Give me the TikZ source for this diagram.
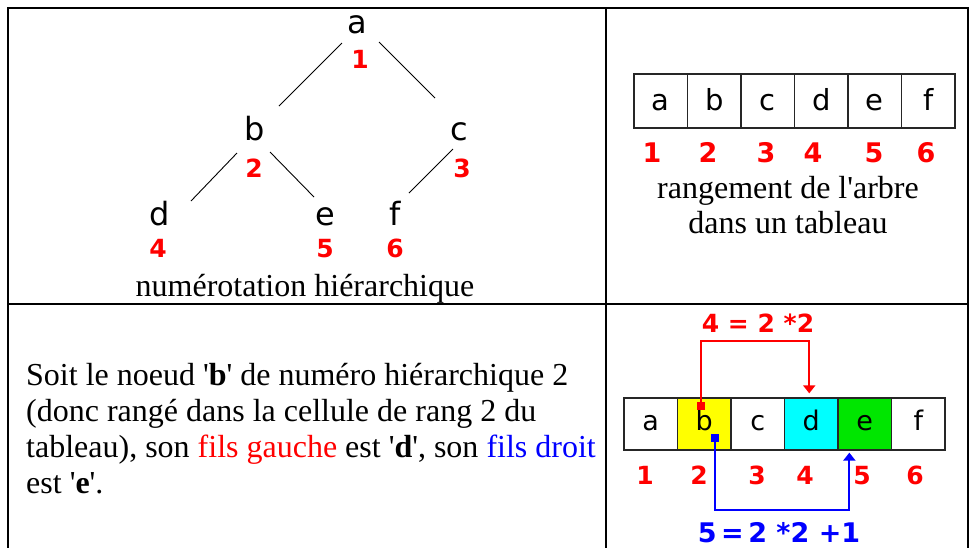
\documentclass[tikz,border=0pt]{standalone}
\usepackage{fontspec}
\setmainfont{Liberation Serif}
\newfontfamily\dsans{DejaVu Sans}
\usetikzlibrary{calc,arrows.meta}
\definecolor{cellyellow}{RGB}{255,255,0}
\definecolor{cellcyan}{RGB}{0,255,255}
\definecolor{cellgreen}{RGB}{0,230,0}
\definecolor{pured}{RGB}{255,0,0}
\definecolor{pureblue}{RGB}{0,0,255}
\begin{document}
\begin{tikzpicture}[x=1pt,y=-1pt,
  frame/.style={line width=2.2pt},
  treelet/.style={font=\dsans\fontsize{32}{32}\selectfont, inner sep=0pt, anchor=base},
  treenum/.style={font=\dsans\bfseries\fontsize{25}{25}\selectfont, text=pured, inner sep=0pt, anchor=base},
  tedge/.style={line width=0.9pt},
  serif/.style={font=\fontsize{32}{36}\selectfont, inner sep=0pt},
  cellA/.style={draw=black!85, line width=1.3pt, minimum width=53.5pt, minimum height=54pt,
     inner sep=0pt, font=\dsans\fontsize{29}{29}\selectfont, text height=20pt, text depth=2pt},
  cellB/.style={draw=black!85, line width=1.3pt, minimum width=53.5pt, minimum height=52pt,
     inner sep=0pt, font=\dsans\fontsize{27}{27}\selectfont, text height=14pt, text depth=2pt},
  arrnum/.style={font=\dsans\bfseries\fontsize{27}{27}\selectfont, text=pured, inner sep=0pt, anchor=base},
  arrnumB/.style={font=\dsans\bfseries\fontsize{25}{25}\selectfont, text=pured, inner sep=0pt, anchor=base},
  redarr/.style={draw=pured, line width=2pt, -{Triangle[length=8pt,width=12pt]}},
  bluearr/.style={draw=pureblue, line width=2pt, -{Triangle[length=8pt,width=12pt]}},
  sq/.style={minimum size=8pt, inner sep=0pt}
]
\useasboundingbox (0,0) rectangle (970,547);
% frame
\draw[frame] (7,8) -- (968,8);
\draw[frame] (8,7) -- (8,548);
\draw[frame] (606,7) -- (606,548);
\draw[frame] (968,7) -- (968,548);
\draw[frame] (7,304) -- (968,304);

% tree
\node[treelet] (a) at (357,33) {a};
\node[treelet] (b) at (255,140) {b};
\node[treelet] (c) at (459,140) {c};
\node[treelet] (d) at (160,225) {d};
\node[treelet] (e) at (325,225) {e};
\node[treelet] (f) at (395,225) {f};
\node[treenum] (n1) at (360,68) {1};
\node[treenum] (n2) at (254,177) {2};
\node[treenum] (n3) at (462,177) {3};
\node[treenum] (n4) at (158,257) {4};
\node[treenum] (n5) at (325,257) {5};
\node[treenum] (n6) at (395,257) {6};
\draw[tedge] ($(a.base)+(-15,10)$) -- ($(b.base)+(24,-34)$);
\draw[tedge] ($(a.base)+(22,9)$) -- ($(c.base)+(-24,-42)$);
\draw[tedge] ($(b.base)+(-18,13)$) -- ($(d.base)+(31,-24)$);
\draw[tedge] ($(b.base)+(15,12)$) -- ($(e.base)+(-11,-28)$);
\draw[tedge] ($(c.base)+(-6,9)$) -- ($(f.base)+(14,-32)$);
\node[serif, anchor=base] (cap1) at (305,296) {numérotation hiérarchique};

% top right array
\foreach \l [count=\i] in {a,b,c,d,e,f}
  \node[cellA] (t\i) at ({634+53.5*(\i-0.5)},101) {\l};
\foreach \x [count=\i] in {652,708,766,813,874,926}
  \node[arrnum] (tn\i) at (\x,162) {\i};
\node[serif, anchor=base] (cap2a) at (788,198) {rangement de l\textquotesingle arbre};
\node[serif, anchor=base] (cap2b) at (788,233) {dans un tableau};

% bottom left text
\node[serif, anchor=base west] (l1) at (26,385) {Soit le noeud \textquotesingle\textbf{b}\textquotesingle\ de numéro hiérarchique 2};
\node[serif, anchor=base west] (l2) at (26,421) {(donc rangé dans la cellule de rang 2 du};
\node[serif, anchor=base west] (l3) at (26,457) {tableau), son \textcolor{pured}{fils gauche} est \textquotesingle\textbf{d}\textquotesingle, son \textcolor{pureblue}{fils droit}};
\node[serif, anchor=base west] (l4) at (26,493) {est \textquotesingle\textbf{e}\textquotesingle.};

% bottom right array
\node[cellB, fill=white] (u1) at ({624+53.5*0.5},424) {a};
\node[cellB, fill=cellyellow] (u2) at ({624+53.5*1.5},424) {b};
\node[cellB, fill=white] (u3) at ({624+53.5*2.5},424) {c};
\node[cellB, fill=cellcyan] (u4) at ({624+53.5*3.5},424) {d};
\node[cellB, fill=cellgreen] (u5) at ({624+53.5*4.5},424) {e};
\node[cellB, fill=white] (u6) at ({624+53.5*5.5},424) {f};
\foreach \x [count=\i] in {645,699,757,805,862,915}
  \node[arrnumB] (un\i) at (\x,484) {\i};
\node[font=\dsans\bfseries\fontsize{25}{25}\selectfont, text=pured, inner sep=0pt, anchor=base] (fr) at (758,332) {4 = 2 *2};
\node[font=\dsans\bfseries\fontsize{27}{27}\selectfont, text=pureblue, inner sep=0pt, anchor=base] (fb) at (779,542) {5\,=\,2 *2 +1};
\coordinate (rsqc) at (701,406);
\coordinate (bsqc) at (715,438);
\coordinate (btip) at ($(u5.south west)+(12,2)$);
\draw[redarr] (rsqc) |- ($(u4.north)+(-2,-56)$) -- ($(u4.north)+(-2,-4)$);
\draw[bluearr] (bsqc) |- ($(btip)+(0,57)$) -- (btip);
\node[sq, fill=pured] (rsq) at (rsqc) {};
\node[sq, fill=pureblue] (bsq) at (bsqc) {};
\end{tikzpicture}
\end{document}
